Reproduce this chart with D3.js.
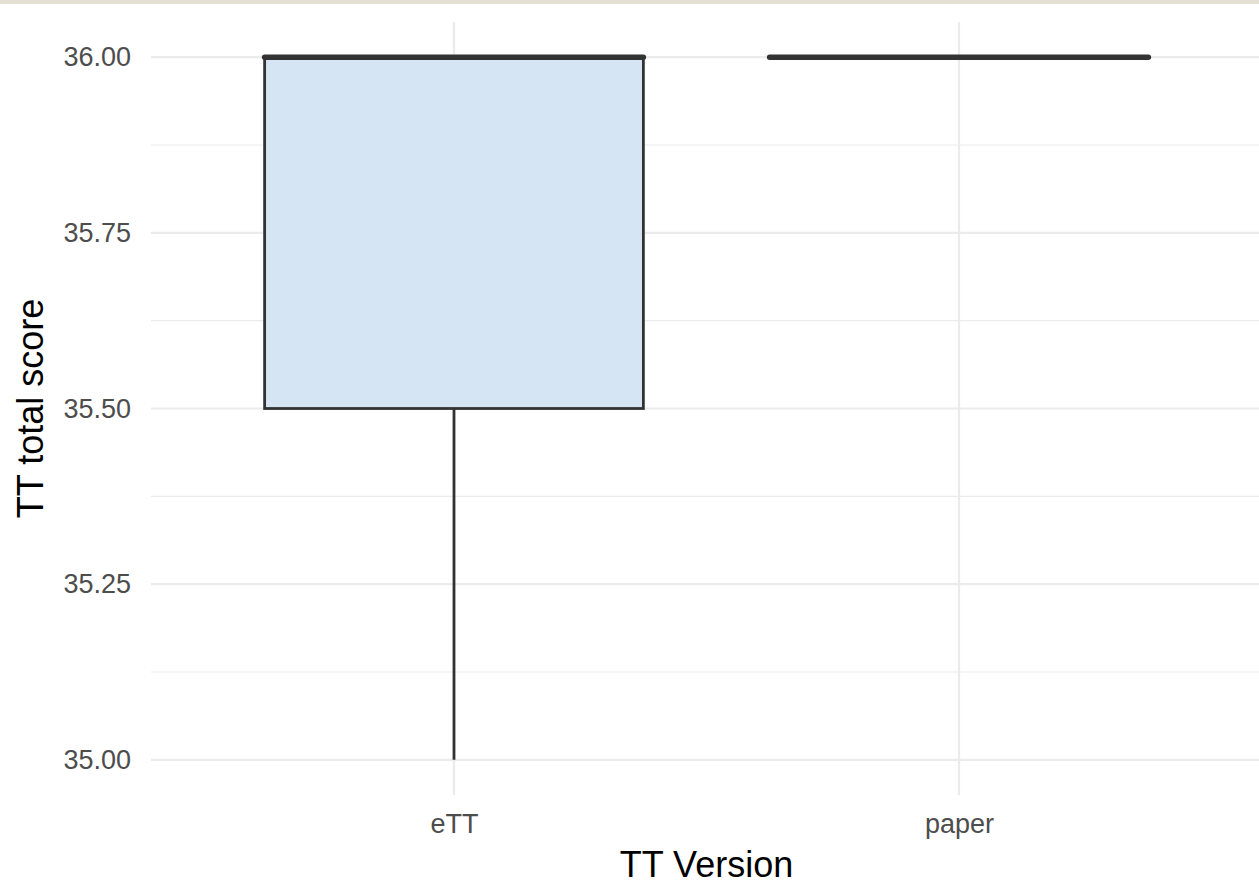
<!DOCTYPE html>
<html>
<head>
<meta charset="utf-8">
<script src="https://cdn.jsdelivr.net/npm/d3@7"></script>
<style>
  html, body { margin: 0; padding: 0; background: #fff; }
  svg { display: block; font-family: "Liberation Sans", Arial, sans-serif; }
</style>
</head>
<body>
<div id="chart"></div>
<script>
// categories and five-number summaries (min, q1, median, q3, max)
const versions = ['eTT', 'paper'];
const mins    = [35.0, 36.0];
const q1s     = [35.5, 36.0];
const medians = [36.0, 36.0];
const q3s     = [36.0, 36.0];
const maxs    = [36.0, 36.0];
const yTicks = [35.0, 35.25, 35.5, 35.75, 36.0];
const yMinor = [35.125, 35.375, 35.625, 35.875];

const width = 1259, height = 884;
const boxes = versions.map((v, i) => ({
  v, min: mins[i], q1: q1s[i], med: medians[i], q3: q3s[i], max: maxs[i]
}));

const svg = d3.select('#chart').append('svg')
  .attr('width', width).attr('height', height);

// thin beige strip along the top
svg.append('rect').attr('x', 0).attr('y', 0).attr('width', width).attr('height', 4)
  .attr('fill', '#e5dfd3');

const panel = { left: 151, right: 1262, top: 22, bottom: 795 };

const x = d3.scalePoint().domain(versions).range([panel.left, panel.right]).padding(0.6);
const y = d3.scaleLinear().domain([34.95, 36.05]).range([panel.bottom, panel.top]);
const boxW = x.step() * 0.75;

const grid = svg.append('g');
grid.selectAll('.minor').data(yMinor).join('line')
  .attr('x1', panel.left).attr('x2', panel.right)
  .attr('y1', d => y(d)).attr('y2', d => y(d))
  .attr('stroke', '#ebebeb').attr('stroke-width', 1.1);
grid.selectAll('.majy').data(yTicks).join('line')
  .attr('x1', panel.left).attr('x2', panel.right)
  .attr('y1', d => y(d)).attr('y2', d => y(d))
  .attr('stroke', '#ebebeb').attr('stroke-width', 2.2);
grid.selectAll('.majx').data(versions).join('line')
  .attr('x1', d => x(d)).attr('x2', d => x(d))
  .attr('y1', panel.top).attr('y2', panel.bottom)
  .attr('stroke', '#ebebeb').attr('stroke-width', 2.2);

// boxes
const g = svg.append('g');
boxes.forEach(b => {
  const cx = x(b.v);
  if (b.min < b.q1) {
    g.append('line').attr('x1', cx).attr('x2', cx)
      .attr('y1', y(b.q1)).attr('y2', y(b.min))
      .attr('stroke', '#333').attr('stroke-width', 2.8);
  }
  if (b.max > b.q3) {
    g.append('line').attr('x1', cx).attr('x2', cx)
      .attr('y1', y(b.q3)).attr('y2', y(b.max))
      .attr('stroke', '#333').attr('stroke-width', 2.8);
  }
  g.append('rect')
    .attr('x', cx - boxW / 2).attr('width', boxW)
    .attr('y', y(b.q3)).attr('height', y(b.q1) - y(b.q3))
    .attr('fill', '#d6e5f4').attr('stroke', '#333').attr('stroke-width', 2.8);
  g.append('line')
    .attr('x1', cx - boxW / 2).attr('x2', cx + boxW / 2)
    .attr('y1', y(b.med)).attr('y2', y(b.med))
    .attr('stroke', '#333').attr('stroke-width', 5.5)
    .attr('stroke-linecap', 'round');
});

// y axis labels
const yAxis = svg.append('g').attr('transform', `translate(${panel.left - 12},0)`)
  .call(d3.axisLeft(y).tickValues(yTicks).tickFormat(d3.format('.2f')).tickSize(0).tickPadding(8));
yAxis.select('.domain').remove();
yAxis.selectAll('text').attr('fill', '#4d4d4d').style('font-size', '27px')
  .style('font-family', '"Liberation Sans", Arial, sans-serif');

// x axis labels
const xAxis = svg.append('g').attr('transform', `translate(0,${panel.bottom + 11})`)
  .call(d3.axisBottom(x).tickSize(0).tickPadding(8));
xAxis.select('.domain').remove();
xAxis.selectAll('text').attr('fill', '#4d4d4d').style('font-size', '27px')
  .style('font-family', '"Liberation Sans", Arial, sans-serif');

// titles
svg.append('text')
  .attr('x', (panel.left + panel.right) / 2).attr('y', 877)
  .attr('text-anchor', 'middle').attr('fill', '#000')
  .style('font-size', '36px').text('TT Version');
svg.append('text')
  .attr('transform', `translate(43,${(panel.top + panel.bottom) / 2}) rotate(-90)`)
  .attr('text-anchor', 'middle').attr('fill', '#000')
  .style('font-size', '36px').text('TT total score');
</script>
</body>
</html>
